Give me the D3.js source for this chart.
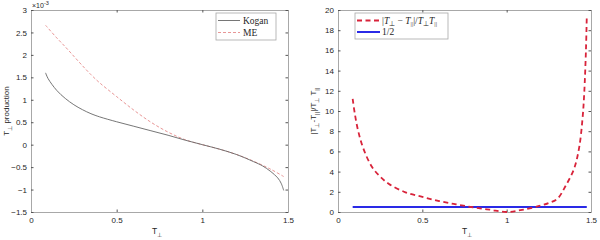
<!DOCTYPE html>
<html lang="en">
  <head>
    <meta charset="utf-8"/>
    <title>T perp production and anisotropy</title>
    <script src="https://d3js.org/d3.v7.min.js"></script>
    <style>
      body { margin: 0; background: #fff; }
      svg text { font-family: "Liberation Sans", Arial, sans-serif; fill: #262626; }
      .tick text { font-size: 8px; }
      .tick line { stroke: #555; }
      .domain { stroke: #a8a8a8; }
      .serif { font-family: "Liberation Serif", "Times New Roman", serif; }
    </style>
  </head>
  <body>
    <div id="chart"></div>
    <script>
      // ---- data ----
      var koganT   = [0.085, 0.1, 0.15, 0.2, 0.25, 0.3, 0.35, 0.4, 0.5, 0.6, 0.7, 0.8, 0.9, 1.0, 1.1, 1.2, 1.3, 1.35, 1.4, 1.44, 1.46, 1.475];
      var koganVal = [1.60, 1.47, 1.21, 1.03, 0.89, 0.78, 0.69, 0.62, 0.51, 0.41, 0.31, 0.21, 0.10, 0.0, -0.10, -0.22, -0.38, -0.47, -0.60, -0.74, -0.86, -1.02];

      var meT   = [0.085, 0.15, 0.2, 0.25, 0.3, 0.35, 0.4, 0.5, 0.6, 0.7, 0.8, 0.9, 1.0, 1.1, 1.2, 1.3, 1.4, 1.475];
      var meVal = [2.66, 2.38, 2.18, 1.97, 1.76, 1.56, 1.38, 1.07, 0.77, 0.50, 0.28, 0.11, 0.0, -0.10, -0.22, -0.37, -0.55, -0.71];

      var ratioT   = [0.087, 0.1, 0.12, 0.15, 0.2, 0.25, 0.3, 0.4, 0.5, 0.6, 0.7, 0.8, 0.9, 1.0, 1.1, 1.2, 1.25, 1.3, 1.35, 1.4, 1.43, 1.45, 1.46, 1.47, 1.475];
      var ratioVal = [11.2, 9.7, 8.0, 6.3, 4.5, 3.5, 2.8, 1.95, 1.5, 1.08, 0.76, 0.47, 0.23, 0.0, 0.24, 0.62, 0.9, 1.3, 2.6, 4.3, 6.4, 9.3, 11.8, 16.0, 19.4];

      var halfT   = [0.087, 1.475];
      var halfVal = [0.5, 0.5];

      var xTicks      = [0, 0.5, 1, 1.5];
      var leftYTicks  = [-1.5, -1, -0.5, 0, 0.5, 1, 1.5, 2, 2.5, 3];
      var rightYTicks = [0, 2, 4, 6, 8, 10, 12, 14, 16, 18, 20];

      function zip(a, b) { return a.map(function(d, i) { return [d, b[i]]; }); }

      var svg = d3.select("#chart").append("svg")
        .attr("width", 600)
        .attr("height", 240);

      // draws one MATLAB-like boxed axes, returns scales and group
      function makeAxes(left, right, top, bottom, xDom, yDom, yTicks) {
        var x = d3.scaleLinear().domain(xDom).range([left, right]);
        var y = d3.scaleLinear().domain(yDom).range([bottom, top]);
        var g = svg.append("g");

        g.append("g")
          .attr("transform", "translate(0," + bottom + ")")
          .call(d3.axisBottom(x).tickValues(xTicks).tickSize(-2.5).tickPadding(5).tickFormat(d3.format("")));
        g.append("g")
          .attr("transform", "translate(0," + top + ")")
          .call(d3.axisTop(x).tickValues(xTicks).tickSize(-2.5).tickFormat(""));
        g.append("g")
          .attr("transform", "translate(" + left + ",0)")
          .call(d3.axisLeft(y).tickValues(yTicks).tickSize(-2.5).tickPadding(4).tickFormat(d3.format("")));
        g.append("g")
          .attr("transform", "translate(" + right + ",0)")
          .call(d3.axisRight(y).tickValues(yTicks).tickSize(-2.5).tickFormat(""));
        g.selectAll(".domain").attr("stroke", "#a8a8a8");
        return { x: x, y: y, g: g };
      }

      // ---------------- left panel ----------------
      var L = makeAxes(31, 288, 10, 212, [0, 1.5], [-1.5, 3], leftYTicks);

      var lineL = d3.line().curve(d3.curveCatmullRom)
        .x(function(d) { return L.x(d[0]); })
        .y(function(d) { return L.y(d[1]); });

      L.g.append("path")
        .datum(zip(meT, meVal))
        .attr("fill", "none")
        .attr("stroke", "#e58a8a")
        .attr("stroke-width", 0.9)
        .attr("stroke-dasharray", "3,2")
        .attr("d", lineL);

      L.g.append("path")
        .datum(zip(koganT, koganVal))
        .attr("fill", "none")
        .attr("stroke", "#666")
        .attr("stroke-width", 0.9)
        .attr("d", lineL);

      // exponent label
      var ex = svg.append("text").attr("x", 32).attr("y", 8).style("font-size", "7px");
      ex.append("tspan").text("\u00d710");
      ex.append("tspan").attr("dy", -3).style("font-size", "5.5px").text("-3");

      // y label
      var yl = svg.append("text")
        .attr("transform", "translate(9,111) rotate(-90)")
        .attr("text-anchor", "middle")
        .style("font-size", "8px");
      yl.append("tspan").text("T");
      yl.append("tspan").attr("dy", 3).style("font-size", "6px").text("\u22a5");
      yl.append("tspan").attr("dy", -3).text(" production");

      // x label
      var xl = svg.append("text").attr("x", 157).attr("y", 234)
        .attr("text-anchor", "middle").style("font-size", "8.5px");
      xl.append("tspan").text("T");
      xl.append("tspan").attr("dy", 3).style("font-size", "6px").text("\u22a5");

      // legend
      var lgL = svg.append("g");
      lgL.append("rect").attr("x", 216).attr("y", 13).attr("width", 60).attr("height", 27)
        .attr("fill", "#fff").attr("stroke", "#a8a8a8").attr("stroke-width", 0.8);
      lgL.append("line").attr("x1", 218).attr("x2", 240).attr("y1", 20.5).attr("y2", 20.5)
        .attr("stroke", "#666").attr("stroke-width", 0.9);
      lgL.append("line").attr("x1", 218).attr("x2", 240).attr("y1", 32.5).attr("y2", 32.5)
        .attr("stroke", "#e58a8a").attr("stroke-width", 0.9).attr("stroke-dasharray", "3,2");
      lgL.append("text").attr("class", "serif").attr("x", 243).attr("y", 23.5)
        .style("font-size", "9.5px").text("Kogan");
      lgL.append("text").attr("class", "serif").attr("x", 243).attr("y", 35.5)
        .style("font-size", "9.5px").text("ME");

      // ---------------- right panel ----------------
      var R = makeAxes(338, 591, 10, 212, [0, 1.5], [0, 20], rightYTicks);

      var lineR = d3.line().curve(d3.curveCatmullRom)
        .x(function(d) { return R.x(d[0]); })
        .y(function(d) { return R.y(d[1]); });

      R.g.append("path")
        .datum(zip(halfT, halfVal))
        .attr("fill", "none")
        .attr("stroke", "#2a2ae6")
        .attr("stroke-width", 2)
        .attr("d", lineR);

      R.g.append("path")
        .datum(zip(ratioT, ratioVal))
        .attr("fill", "none")
        .attr("stroke", "#d8233a")
        .attr("stroke-width", 1.8)
        .attr("stroke-dasharray", "5,3.5")
        .attr("d", lineR);

      // y label
      var yr = svg.append("text")
        .attr("transform", "translate(316,111) rotate(-90)")
        .attr("text-anchor", "middle")
        .style("font-size", "8px");
      yr.append("tspan").text("|T");
      yr.append("tspan").attr("dy", 3).style("font-size", "6px").text("\u22a5");
      yr.append("tspan").attr("dy", -3).text("-T");
      yr.append("tspan").attr("dy", 3).style("font-size", "6px").text("||");
      yr.append("tspan").attr("dy", -3).text("|/T");
      yr.append("tspan").attr("dy", 3).style("font-size", "6px").text("\u22a5");
      yr.append("tspan").attr("dy", -3).text(" T");
      yr.append("tspan").attr("dy", 3).style("font-size", "6px").text("||");

      // x label
      var xr = svg.append("text").attr("x", 467).attr("y", 234)
        .attr("text-anchor", "middle").style("font-size", "8.5px");
      xr.append("tspan").text("T");
      xr.append("tspan").attr("dy", 3).style("font-size", "6px").text("\u22a5");

      // legend
      var lgR = svg.append("g");
      lgR.append("rect").attr("x", 355).attr("y", 13).attr("width", 93).attr("height", 26)
        .attr("fill", "#fff").attr("stroke", "#a8a8a8").attr("stroke-width", 0.8);
      lgR.append("line").attr("x1", 357).attr("x2", 380).attr("y1", 20.5).attr("y2", 20.5)
        .attr("stroke", "#d8233a").attr("stroke-width", 1.8).attr("stroke-dasharray", "5,3.5");
      lgR.append("line").attr("x1", 357).attr("x2", 380).attr("y1", 32).attr("y2", 32)
        .attr("stroke", "#2a2ae6").attr("stroke-width", 2);

      var mt = lgR.append("text").attr("class", "serif").attr("x", 382).attr("y", 23.5)
        .style("font-size", "9.5px");
      mt.append("tspan").text("|");
      mt.append("tspan").style("font-style", "italic").text("T");
      mt.append("tspan").attr("dy", 2).style("font-size", "6.5px").text("\u22a5");
      mt.append("tspan").attr("dy", -2).text(" \u2212 ");
      mt.append("tspan").style("font-style", "italic").text("T");
      mt.append("tspan").attr("dy", 2).style("font-size", "6.5px").text("||");
      mt.append("tspan").attr("dy", -2).text("|/");
      mt.append("tspan").style("font-style", "italic").text("T");
      mt.append("tspan").attr("dy", 2).style("font-size", "6.5px").text("\u22a5");
      mt.append("tspan").attr("dy", -2).style("font-style", "italic").text("T");
      mt.append("tspan").attr("dy", 2).style("font-size", "6.5px").text("||");

      lgR.append("text").attr("class", "serif").attr("x", 382).attr("y", 35)
        .style("font-size", "9.5px").text("1/2");
    </script>
  </body>
</html>
